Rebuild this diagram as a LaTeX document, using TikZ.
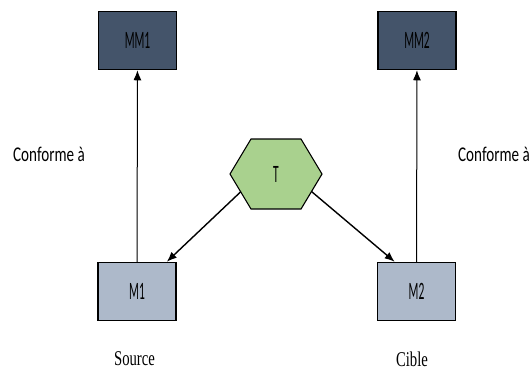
\documentclass[tikz,border=0pt]{standalone}
\usepackage{fontspec}
\usepackage{tikz}
\usetikzlibrary{arrows.meta,calc,positioning}
\setmainfont{Liberation Serif}
\newfontfamily\boxfont{Carlito}[FakeStretch=0.46]
\newfontfamily\notefont{Carlito}[FakeStretch=0.72]
\newfontfamily\rolefont{Liberation Serif}[FakeStretch=0.7]
\definecolor{MetaSlate}{RGB}{68,84,106}
\definecolor{ModelGrey}{RGB}{173,185,202}
\definecolor{TransGreen}{RGB}{169,209,142}

\begin{document}
\begin{tikzpicture}[x=1pt,y=-1pt,>={Latex[length=10pt,width=8pt]},
    metabox/.style={draw=black,line width=1.5pt,fill=MetaSlate,minimum width=78pt,minimum height=58pt,font=\boxfont\fontsize{25}{27}\selectfont},
    modelbox/.style={draw=black,line width=1.5pt,fill=ModelGrey,minimum width=78pt,minimum height=58pt,font=\boxfont\fontsize{25}{27}\selectfont},
    note/.style={font=\notefont\fontsize{21}{23}\selectfont},
    role/.style={font=\rolefont\fontsize{21}{23}\selectfont}]
      \useasboundingbox (0,0) rectangle (532,373);
      \node[metabox] (MM1) at (137.5,40.5) {MM1};
      \node[metabox] (MM2) at (417,40.5) {MM2};
      \node[modelbox] (M1) at (137,291.5) {M1};
      \node[modelbox] (M2) at (416.5,291.5) {M2};
      % transformation hexagon
      \draw[fill=TransGreen,draw=black,line width=1.1pt] (230,174) -- (251,139) -- (301,139) -- (322,174) -- (301,209) -- (251,209) -- cycle;
      \node[font=\boxfont\fontsize{25}{27}\selectfont] (T) at (276,174) {T};
      \coordinate (Tsw) at (241,191.5);
      \coordinate (Tse) at (311.5,191.5);
      \draw[->,line width=1pt] (M1) -- (MM1);
      \draw[->,line width=1pt] (M2) -- (MM2);
      \draw[->,line width=1.4pt] (Tsw) -- ($(M1.north)!0.75!(M1.north east)$);
      \draw[->,line width=1.4pt] (Tse) -- ($(M2.north)!0.55!(M2.north west)$);
      \node[note] (c1) at (49,154) {Conforme à};
      \node[note] (c2) at (494,154) {Conforme à};
      \node[role] (src) at (134.5,359) {Source};
      \node[role] (cib) at (412,359) {Cible};
    \end{tikzpicture}
\end{document}
